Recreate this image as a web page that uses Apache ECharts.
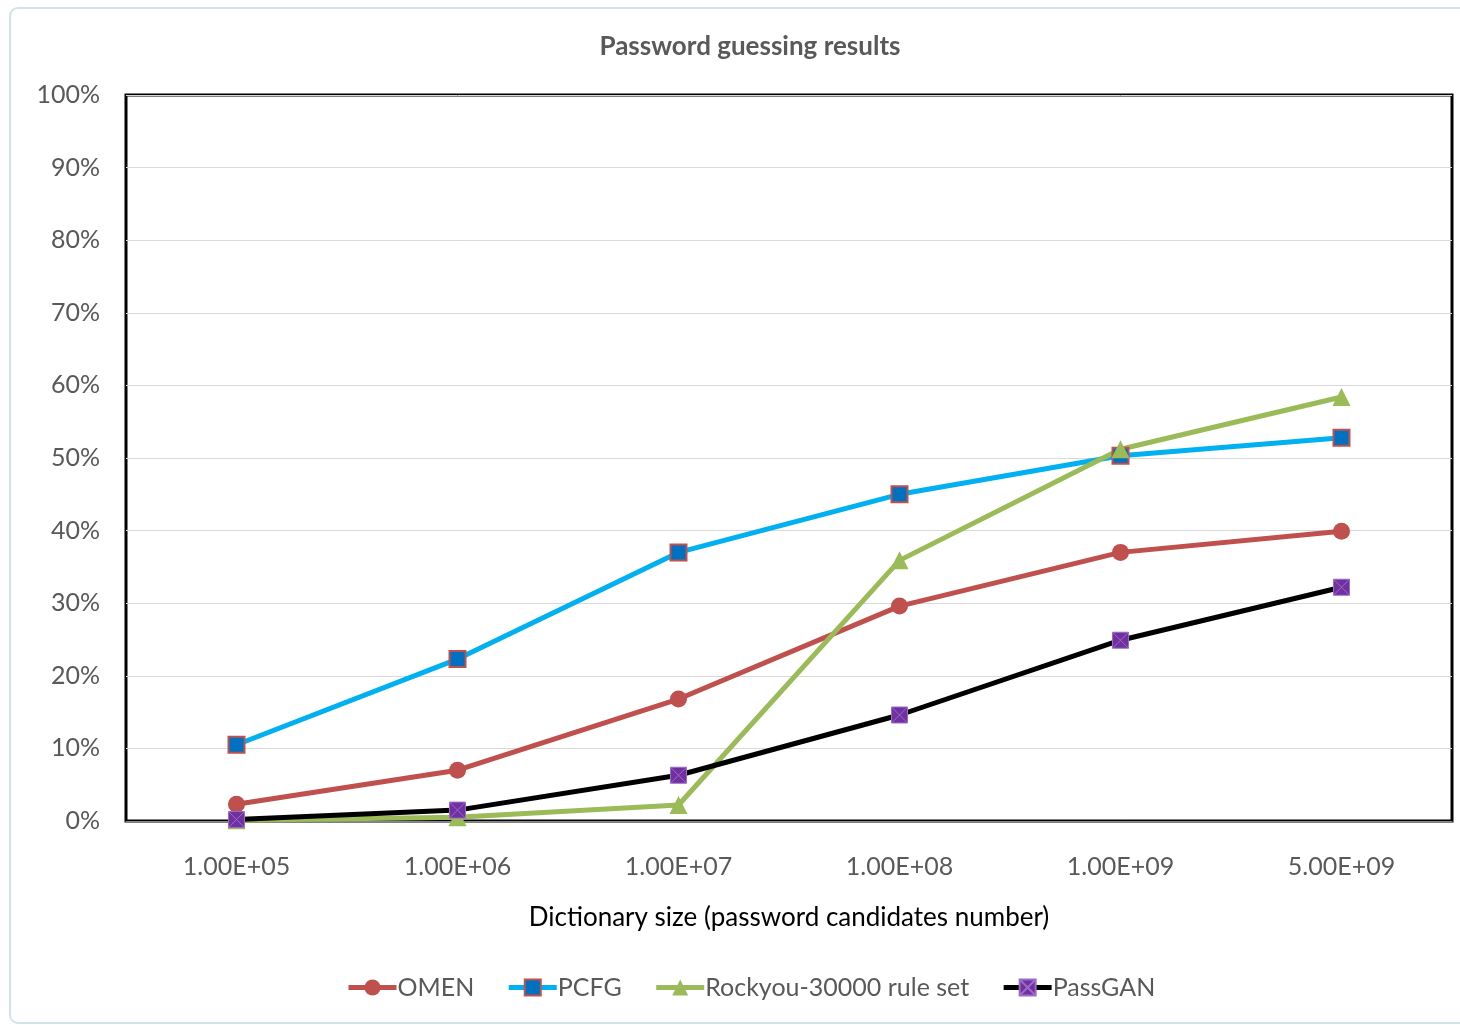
<!DOCTYPE html>
<html>
<head>
<meta charset="utf-8">
<title>Password guessing results</title>
<script src="https://cdn.jsdelivr.net/npm/echarts@6/dist/echarts.min.js"></script>
<style>
  html, body { margin: 0; padding: 0; background: #fff; }
  #chart { width: 1460px; height: 1025px; }
</style>
</head>
<body>
<div id="chart"></div>
<script>
// Dictionary sizes (categories)
const categories = ['1.00E+05', '1.00E+06', '1.00E+07', '1.00E+08', '1.00E+09', '5.00E+09'];
// Share of passwords guessed, in percent
const omen    = [2.3, 7.0, 16.8, 29.6, 37.0, 39.9];
const pcfg    = [10.5, 22.3, 37.0, 45.0, 50.3, 52.8];
const rockyou = [0.1, 0.5, 2.2, 35.9, 51.2, 58.4];
const passgan = [0.2, 1.5, 6.3, 14.6, 24.9, 32.2];
const seriesNames = ['OMEN', 'PCFG', 'Rockyou-30000 rule set', 'PassGAN'];

const FONT = 'Lato, "Open Sans", sans-serif';
const crossSquare = 'path://M0,0H10V10H0Z M0,0L10,10 M10,0L0,10';

const chart = echarts.init(document.getElementById('chart'));
chart.setOption({
  animation: false,
  backgroundColor: '#ffffff',
  graphic: [{
    type: 'rect',
    shape: { x: 10, y: 8, width: 1470, height: 1015, r: 8 },
    style: { fill: 'none', stroke: '#cfe3e8', lineWidth: 2 },
    silent: true
  }],
  title: {
    text: 'Password guessing results',
    left: 745,
    textAlign: 'center',
    top: 29,
    textStyle: { fontFamily: FONT, fontSize: 26, fontWeight: 'bold', color: '#595959' }
  },
  legend: {
    bottom: 20,
    left: 341,
    itemWidth: 48,
    itemHeight: 20,
    itemGap: 32,
    lineStyle: { width: 5 },
    textStyle: { fontFamily: FONT, fontSize: 25, color: '#595959', padding: [0, 0, 0, -4] },
    data: seriesNames
  },
  grid: {
    left: 126, right: 8, top: 95, bottom: 204,
    show: true, borderColor: '#000', borderWidth: 3, backgroundColor: 'transparent',
    containLabel: false
  },
  xAxis: {
    type: 'category',
    data: categories,
    boundaryGap: true,
    name: 'Dictionary size (password candidates number)',
    nameLocation: 'middle',
    nameGap: 84,
    nameTextStyle: { fontFamily: FONT, fontSize: 26, color: '#000' },
    axisLine: { show: true, lineStyle: { color: '#888', width: 1 } },
    axisTick: { show: false },
    axisLabel: { fontFamily: FONT, fontSize: 25, color: '#595959', margin: 33 },
    splitLine: { show: false }
  },
  yAxis: {
    type: 'value',
    min: 0, max: 100, interval: 10,
    axisLine: { show: false },
    axisTick: { show: false },
    axisLabel: { fontFamily: FONT, fontSize: 25, color: '#595959', margin: 26, formatter: '{value}%' },
    splitLine: { show: true, lineStyle: { color: '#d9d9d9', width: 1 } }
  },
  series: [
    {
      name: 'OMEN', type: 'line', data: omen,
      symbol: 'circle', symbolSize: 17,
      lineStyle: { color: '#c0504d', width: 5 },
      itemStyle: { color: '#c0504d' }
    },
    {
      name: 'PCFG', type: 'line', data: pcfg,
      symbol: 'rect', symbolSize: 16,
      lineStyle: { color: '#00b0f0', width: 5 },
      itemStyle: { color: '#0070c0', borderColor: '#c0504d', borderWidth: 2 }
    },
    {
      name: 'Rockyou-30000 rule set', type: 'line', data: rockyou,
      symbol: 'triangle', symbolSize: 18,
      lineStyle: { color: '#9bbb59', width: 5 },
      itemStyle: { color: '#9bbb59' }
    },
    {
      name: 'PassGAN', type: 'line', data: passgan,
      symbol: crossSquare, symbolSize: 16,
      lineStyle: { color: '#000000', width: 5 },
      itemStyle: { color: '#7030a0', borderColor: '#9a6cc6', borderWidth: 1 }
    }
  ]
});
</script>
</body>
</html>
